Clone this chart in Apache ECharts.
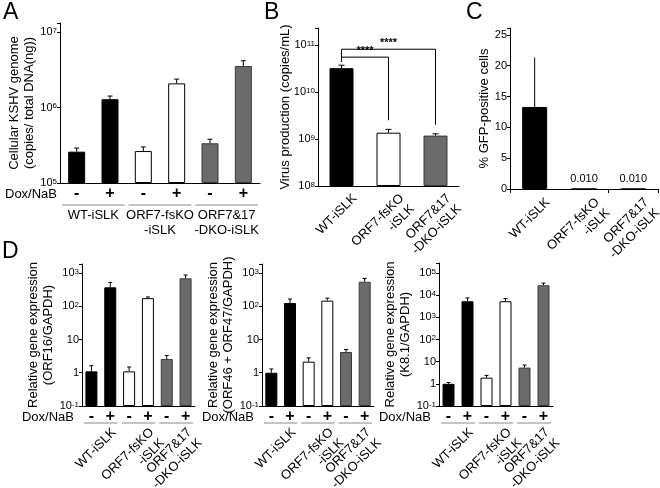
<!DOCTYPE html>
<html><head><meta charset="utf-8">
<script src="https://cdn.jsdelivr.net/npm/echarts@6/dist/echarts.min.js"></script>
<style>html,body{margin:0;padding:0;background:#fff}#c{width:660px;height:488px}</style>
</head><body><div id="c"></div>
<script>
// ---------- data ----------
const groupNames = ['WT-iSLK', 'ORF7-fsKO\n-iSLK', 'ORF7&17\n-DKO-iSLK'];
const doxLabels = ['-', '+', '-', '+', '-', '+'];
const barGroup = [0, 0, 1, 1, 2, 2];

// Panel A: cellular KSHV genome (copies / total DNA(ng))
const aValues = [2.6e5, 1.29e6, 2.65e5, 2.09e6, 3.36e5, 3.55e6];
const aErrTop = [2.9e5, 1.42e6, 3.0e5, 2.38e6, 3.8e5, 4.17e6];

// Panel B: virus production (copies/mL)
const bValues = [3.2e10, 1.36e9, 1.18e9];
const bErrTop = [3.7e10, 1.6e9, 1.29e9];
const bBracketStart = 4.4e10;
const bBracketTo = [1, 2];
const bBracketLevel = [5.5e10, 8.1e10];
const bBracketEnd = [2.5e9, 2.0e9];
const bBracketText = ['****', '****'];

// Panel C: % GFP-positive cells
const cValues = [13.3, 0.01, 0.01];
const cErrTop = [21.3, null, null];
const cValueLabels = ['', '0.010', '0.010'];

// Panel D: relative gene expression
const d1Values = [1.1, 370, 1.1, 175, 2.6, 690];
const d1ErrTop = [1.63, 520, 1.49, 190, 3.3, 870];
const d2Values = [1.0, 125, 2.15, 147, 4.2, 545];
const d2ErrTop = [1.3, 165, 2.8, 175, 5.0, 680];
const d3Values = [1.0, 5300, 1.9, 5300, 5.4, 28000];
const d3ErrTop = [1.15, 7500, 2.4, 7000, 7.0, 35000];

// ---------- style ----------
const FONT = 'Liberation Sans, Arial, Helvetica, sans-serif';
const fills = ['#000000', '#ffffff', '#6b6b6b'];
const borders = ['#000000', '#000000', '#3a3a3a'];

const chart = echarts.init(document.getElementById('c'), null, {renderer: 'canvas'});

function logFmt(small) {
  return function (v) {
    const e = Math.log10(v), r = Math.round(e);
    if (Math.abs(e - r) > 1e-3) return '';
    if (small && r === 0) return '1';
    if (small && r === 1) return '10';
    return '10{s|' + r + '}';
  };
}
const supRich = {s: {fontSize: 8, verticalAlign: 'top', lineHeight: 8, fontFamily: FONT, color: '#000'}};

function yName(name, gap) {
  return {
    name: name, nameLocation: 'middle', nameRotate: 90, nameGap: gap, nameMoveOverlap: false,
    nameTextStyle: {fontFamily: FONT, fontSize: 13, color: '#000', lineHeight: 15}
  };
}
function yAxisLog(grid, min, max, name, nameGap, small) {
  return Object.assign({
    type: 'log', logBase: 10, gridIndex: grid, min: min, max: max, startValue: min,
    axisLine: {show: true, lineStyle: {color: '#000', width: 1}},
    axisTick: {show: true, length: 3, lineStyle: {color: '#000'}},
    splitLine: {show: false}, minorTick: {show: false},
    axisLabel: {formatter: logFmt(small), fontFamily: FONT, fontSize: 11, color: '#000', margin: 3, rich: supRich}
  }, yName(name, nameGap));
}
function xDox(grid) {
  return {
    type: 'category', gridIndex: grid, data: doxLabels,
    axisLine: {lineStyle: {color: '#000', width: 1}}, axisTick: {show: false},
    axisLabel: {interval: 0, fontFamily: FONT, fontSize: 16, fontWeight: 'bold', color: '#000', margin: 3}
  };
}
function xGroupFlat(grid, offset) {
  return {
    type: 'category', gridIndex: grid, data: groupNames, position: 'bottom', offset: offset,
    axisLine: {show: false}, axisTick: {show: false},
    axisLabel: {interval: 0, fontFamily: FONT, fontSize: 13, color: '#000', margin: 0, lineHeight: 15}
  };
}
function barSeries(xi, yi, values, width) {
  return {
    type: 'bar', xAxisIndex: xi, yAxisIndex: yi, barWidth: width, clip: true,
    data: values.map((v, i) => ({value: v, itemStyle: {color: fills[barGroup[i]], borderColor: borders[barGroup[i]], borderWidth: 1}}))
  };
}
function errSeries(xi, yi, values, tops, cap) {
  return {
    type: 'custom', xAxisIndex: xi, yAxisIndex: yi, z: 5, silent: true,
    data: values.map((v, i) => [i, v, tops[i]]).filter(d => d[2] != null),
    renderItem: function (params, api) {
      const p0 = api.coord([api.value(0), api.value(1)]);
      const p1 = api.coord([api.value(0), api.value(2)]);
      return {type: 'group', children: [
        {type: 'line', shape: {x1: p0[0], y1: p0[1], x2: p1[0], y2: p1[1]}, style: {stroke: '#000', lineWidth: 1}},
        {type: 'line', shape: {x1: p1[0] - cap, y1: p1[1], x2: p1[0] + cap, y2: p1[1]}, style: {stroke: '#000', lineWidth: 1}}
      ]};
    }
  };
}

const grids = [
  {left: 60, top: 23, width: 200, height: 160},   // A
  {left: 318, top: 28, width: 141, height: 158},  // B
  {left: 510, top: 28, width: 148, height: 161},  // C
  {left: 82, top: 264, width: 113, height: 142},  // D1
  {left: 262, top: 264, width: 112, height: 142}, // D2
  {left: 439, top: 263, width: 114, height: 143}  // D3
];

const option = {
  animation: false,
  backgroundColor: '#fff',
  textStyle: {fontFamily: FONT},
  grid: grids,
  xAxis: [
    xDox(0), xGroupFlat(0, 25),                       // 0,1  A
    {type: 'category', gridIndex: 1, data: groupNames, // 2 B
      axisLine: {lineStyle: {color: '#000'}}, axisTick: {show: false}, axisLabel: {show: false}},
    {type: 'category', gridIndex: 2, data: groupNames, // 3 C
      axisLine: {lineStyle: {color: '#000'}}, axisTick: {show: true, length: 4, lineStyle: {color: '#000'}},
      axisLabel: {show: false}},
    xDox(3), xDox(4), xDox(5)                         // 4,5,6 D1-D3
  ],
  yAxis: [
    yAxisLog(0, 1e5, Math.pow(10, 7.12), 'Cellular KSHV genome\n(copies/ total DNA(ng))', 23, false),
    yAxisLog(1, 1e8, Math.pow(10, 11.36), 'Virus production (copies/mL)', 25, false),
    Object.assign({type: 'value', gridIndex: 2, min: 0, max: 26.1, interval: 5,
      axisLine: {show: true, lineStyle: {color: '#000'}}, axisTick: {show: true, length: 3, lineStyle: {color: '#000'}},
      splitLine: {show: false},
      axisLabel: {fontFamily: FONT, fontSize: 11, color: '#000', margin: 3,
        formatter: v => (Math.abs(v % 5) < 1e-6 ? String(v) : '')}}, yName('% GFP-positive cells', 18)),
    yAxisLog(3, 0.1, Math.pow(10, 3.27), 'Relative gene expression\n(ORF16/GAPDH)', 26, true),
    yAxisLog(4, 0.1, Math.pow(10, 3.27), 'Relative gene expression\n(ORF46 + ORF47/GAPDH)', 26, true),
    yAxisLog(5, 0.1, Math.pow(10, 5.45), 'Relative gene expression\n(K8.1/GAPDH)', 26, true)
  ],
  series: [
    barSeries(0, 0, aValues, 17), errSeries(0, 0, aValues, aErrTop, 2.5),
    {
      type: 'bar', xAxisIndex: 2, yAxisIndex: 1, barWidth: 24, clip: true,
      data: bValues.map((v, i) => ({value: v, itemStyle: {color: fills[i], borderColor: borders[i], borderWidth: 1}}))
    },
    errSeries(2, 1, bValues, bErrTop, 3),
    {
      type: 'custom', xAxisIndex: 2, yAxisIndex: 1, z: 6, silent: true,
      data: bBracketTo.map((t, i) => [t, bBracketLevel[i], bBracketEnd[i], i]),
      renderItem: function (params, api) {
        const i = api.value(3);
        const p0 = api.coord([0, bBracketStart]);
        const p1 = api.coord([0, api.value(1)]);
        const p2 = api.coord([api.value(0), api.value(1)]);
        const p3 = api.coord([api.value(0), api.value(2)]);
        return {type: 'group', children: [
          {type: 'polyline', shape: {points: [p0, p1, p2, p3]}, style: {stroke: '#000', lineWidth: 1, fill: null}},
          {type: 'text', x: (p1[0] + p2[0]) / 2, y: p1[1] - 1,
            style: {text: bBracketText[i], fontSize: 11, fontWeight: 'bold', fontFamily: FONT, fill: '#000', align: 'center', verticalAlign: 'bottom'}}
        ]};
      }
    },
    {
      type: 'bar', xAxisIndex: 3, yAxisIndex: 2, barWidth: 25,
      label: {show: true, position: 'top', distance: 4, fontFamily: FONT, fontSize: 11, color: '#000',
        formatter: p => cValueLabels[p.dataIndex]},
      data: cValues.map((v, i) => ({value: v, itemStyle: {color: fills[0], borderColor: '#000', borderWidth: 1}}))
    },
    errSeries(3, 2, cValues, cErrTop, 0),
    barSeries(4, 3, d1Values, 12), errSeries(4, 3, d1Values, d1ErrTop, 2),
    barSeries(5, 4, d2Values, 12), errSeries(5, 4, d2Values, d2ErrTop, 2),
    barSeries(6, 5, d3Values, 12), errSeries(6, 5, d3Values, d3ErrTop, 2)
  ]
};
chart.setOption(option);

// ---------- annotations positioned from the axes ----------
const graphics = [];
function letter(t, x, y) {
  graphics.push({type: 'text', x: x, y: y, style: {text: t, fontFamily: FONT, fontSize: 23, fill: '#000'}});
}
letter('A', 3, 1); letter('B', 264, 1); letter('C', 466, 1); letter('D', 2, 240);

function rotatedLabel(text, x, y) {
  graphics.push({type: 'text', x: x, y: y, rotation: Math.PI / 4,
    style: {text: text, fontFamily: FONT, fontSize: 13, lineHeight: 15, fill: '#000', align: 'right', verticalAlign: 'top'}});
}
function categoryLabels(gridIdx, yMin, dx, dy, paired) {
  for (let g = 0; g < 3; g++) {
    let p;
    if (paired) {
      const a = chart.convertToPixel({gridIndex: gridIdx}, [2 * g, yMin]);
      const b = chart.convertToPixel({gridIndex: gridIdx}, [2 * g + 1, yMin]);
      p = [(a[0] + b[0]) / 2, a[1]];
    } else {
      p = chart.convertToPixel({gridIndex: gridIdx}, [g, yMin]);
    }
    rotatedLabel(groupNames[g], p[0] + dx, p[1] + dy);
  }
}
categoryLabels(1, 1e8, 8, 5, false);
categoryLabels(2, 0, 8, 6, false);
categoryLabels(3, 0.1, 8, 19, true);
categoryLabels(4, 0.1, 8, 19, true);
categoryLabels(5, 0.1, 8, 19, true);

function groupDecor(gridIdx, yAxisMin, lineGap, doxX, doxAlign) {
  const c0 = chart.convertToPixel({gridIndex: gridIdx}, [0, yAxisMin]);
  const c1 = chart.convertToPixel({gridIndex: gridIdx}, [1, yAxisMin]);
  const s = c1[0] - c0[0];
  const axisY = c0[1];
  for (let g = 0; g < 3; g++) {
    const a = chart.convertToPixel({gridIndex: gridIdx}, [2 * g, yAxisMin])[0];
    const b = chart.convertToPixel({gridIndex: gridIdx}, [2 * g + 1, yAxisMin])[0];
    graphics.push({type: 'line', shape: {x1: a - s / 2 + 2, y1: axisY + lineGap, x2: b + s / 2 - 2, y2: axisY + lineGap},
      style: {stroke: '#8a8a8a', lineWidth: 1}});
  }
  graphics.push({type: 'text', x: doxX, y: axisY + 11,
    style: {text: 'Dox/NaB', fontFamily: FONT, fontSize: 13, fill: '#000', align: doxAlign, verticalAlign: 'middle'}});
}
groupDecor(0, 1e5, 22, 5, 'left');
groupDecor(3, 0.1, 17, 74, 'right');
groupDecor(4, 0.1, 17, 254, 'right');
groupDecor(5, 0.1, 17, 431, 'right');
chart.setOption({graphic: graphics});
</script>
</body></html>
